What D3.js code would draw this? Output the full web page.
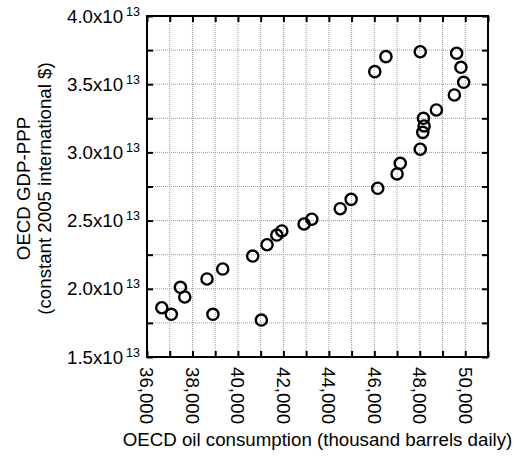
<!DOCTYPE html>
<html>
<head>
<meta charset="utf-8">
<script src="https://cdn.jsdelivr.net/npm/d3@7"></script>
<style>
  body { margin: 0; background: #fff; }
  text { font-family: "Liberation Sans", Arial, Helvetica, sans-serif; fill: #000; }
</style>
</head>
<body>
<div id="chart"></div>
<script>
// OECD oil consumption (thousand barrels daily) vs OECD GDP-PPP, one point per year
var oilConsumption = [36650, 37070, 37470, 37660, 38640, 38900, 39330, 40650, 41030, 41280,
                      41710, 41930, 42910, 43250, 44500, 44980, 46150, 47000, 47140, 48020,
                      48130, 48190, 48160, 48730, 49520, 49930, 49810, 49620, 48020, 46510, 46020];
var gdpPPP = [1.861e13, 1.813e13, 2.011e13, 1.940e13, 2.072e13, 1.813e13, 2.145e13, 2.240e13, 1.771e13, 2.323e13,
              2.394e13, 2.424e13, 2.475e13, 2.510e13, 2.587e13, 2.656e13, 2.737e13, 2.842e13, 2.920e13, 3.023e13,
              3.147e13, 3.194e13, 3.250e13, 3.311e13, 3.421e13, 3.514e13, 3.624e13, 3.727e13, 3.738e13, 3.702e13, 3.592e13];

// tick values and labels
var xTickValues = [36000, 37000, 38000, 39000, 40000, 41000, 42000, 43000, 44000, 45000, 46000, 47000, 48000, 49000, 50000, 51000];
var xLabelValues = [36000, 38000, 40000, 42000, 44000, 46000, 48000, 50000];
var xTickLabels = ["36,000", "38,000", "40,000", "42,000", "44,000", "46,000", "48,000", "50,000"];
var yTickValues = [1.5e13, 1.75e13, 2.0e13, 2.25e13, 2.5e13, 2.75e13, 3.0e13, 3.25e13, 3.5e13, 3.75e13, 4.0e13];
var yLabelValues = [1.5e13, 2.0e13, 2.5e13, 3.0e13, 3.5e13, 4.0e13];
var yTickLabels = ["1.5x10", "2.0x10", "2.5x10", "3.0x10", "3.5x10", "4.0x10"];
var yExponent = "13";

var margin = {top: 16, right: 26, bottom: 100, left: 147},
    width = 514 - margin.left - margin.right,
    height = 457 - margin.top - margin.bottom;

var fontSize = "18.7px";

var svg = d3.select("#chart")
  .append("svg")
    .attr("width", 514)
    .attr("height", 457);

var g = svg.append("g")
    .attr("transform", "translate(" + margin.left + "," + margin.top + ")");

var x = d3.scaleLinear()
  .domain([36000, 51000])
  .range([0, width]);

var y = d3.scaleLinear()
  .domain([1.5e13, 4.0e13])
  .range([height, 0]);

// dotted grid
g.append("g")
  .selectAll("line")
  .data(xTickValues.slice(1, -1))
  .enter().append("line")
    .attr("x1", function(d) { return x(d); })
    .attr("x2", function(d) { return x(d); })
    .attr("y1", 0)
    .attr("y2", height)
    .style("stroke", "#999")
    .style("stroke-width", 1)
    .style("stroke-dasharray", "1,1");

g.append("g")
  .selectAll("line")
  .data(yTickValues.slice(1, -1))
  .enter().append("line")
    .attr("x1", 0)
    .attr("x2", width)
    .attr("y1", function(d) { return y(d); })
    .attr("y2", function(d) { return y(d); })
    .style("stroke", "#999")
    .style("stroke-width", 1)
    .style("stroke-dasharray", "1,1");

// inward ticks on all four sides
var tickLen = 6;
function noLabels(axis) {
  axis.select(".domain").remove();
  axis.selectAll("text").remove();
  axis.selectAll("line").style("stroke", "#000").style("stroke-width", 2);
}
g.append("g")
  .attr("transform", "translate(0," + height + ")")
  .call(d3.axisBottom(x).tickValues(xTickValues).tickSize(-tickLen))
  .call(noLabels);
g.append("g")
  .call(d3.axisTop(x).tickValues(xTickValues).tickSize(-tickLen))
  .call(noLabels);
g.append("g")
  .call(d3.axisLeft(y).tickValues(yTickValues).tickSize(-tickLen))
  .call(noLabels);
g.append("g")
  .attr("transform", "translate(" + width + ",0)")
  .call(d3.axisRight(y).tickValues(yTickValues).tickSize(-tickLen))
  .call(noLabels);

// frame
g.append("rect")
  .attr("x", 0)
  .attr("y", 0)
  .attr("width", width)
  .attr("height", height)
  .style("fill", "none")
  .style("stroke", "#000")
  .style("stroke-width", 2);

// x tick labels, rotated
g.append("g")
  .selectAll("text")
  .data(xLabelValues)
  .enter().append("text")
    .attr("transform", function(d) { return "translate(" + x(d) + "," + (height + 10) + ") rotate(90)"; })
    .attr("dy", "0.35em")
    .style("text-anchor", "start")
    .style("font-size", fontSize)
    .text(function(d, i) { return xTickLabels[i]; });

// y tick labels with exponent
var yl = g.append("g")
  .selectAll("text")
  .data(yLabelValues)
  .enter().append("text")
    .attr("x", -7)
    .attr("y", function(d) { return y(d); })
    .attr("dy", "0.35em")
    .style("text-anchor", "end")
    .style("font-size", fontSize);
yl.append("tspan")
  .text(function(d, i) { return yTickLabels[i]; });
yl.append("tspan")
  .attr("dx", 3)
  .attr("dy", -7)
  .style("font-size", "12.5px")
  .text(yExponent);

// points
g.append("g")
  .selectAll("circle")
  .data(oilConsumption)
  .enter().append("circle")
    .attr("cx", function(d) { return x(d); })
    .attr("cy", function(d, i) { return y(gdpPPP[i]); })
    .attr("r", 5.6)
    .style("fill", "none")
    .style("stroke", "#000")
    .style("stroke-width", 2.4);

// axis titles
svg.append("text")
  .attr("x", margin.left + width / 2)
  .attr("y", 446)
  .style("text-anchor", "middle")
  .style("font-size", fontSize)
  .text("OECD oil consumption (thousand barrels daily)");

svg.append("text")
  .attr("transform", "translate(30," + (margin.top + height / 2 + 2) + ") rotate(-90)")
  .style("text-anchor", "middle")
  .style("font-size", fontSize)
  .text("OECD GDP-PPP");

svg.append("text")
  .attr("transform", "translate(51," + (margin.top + height / 2 + 2) + ") rotate(-90)")
  .style("text-anchor", "middle")
  .style("font-size", fontSize)
  .text("(constant 2005 international $)");
</script>
</body>
</html>
